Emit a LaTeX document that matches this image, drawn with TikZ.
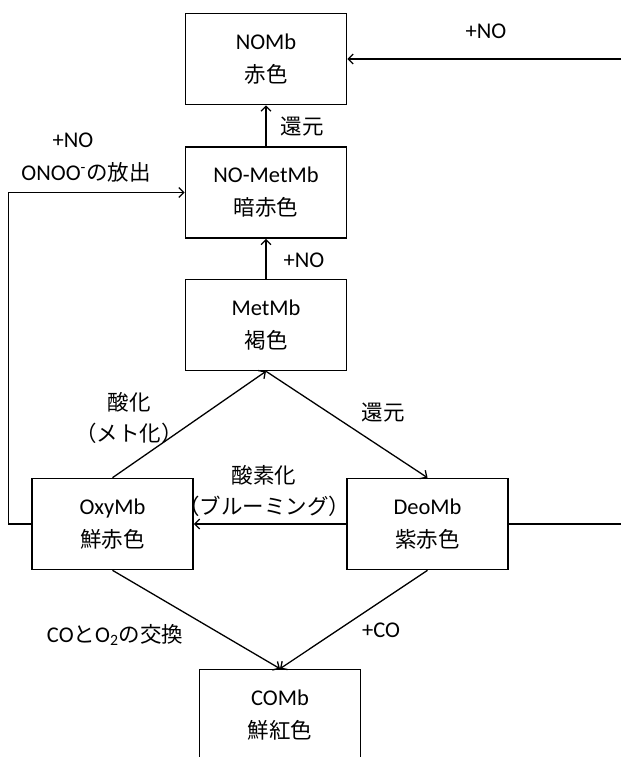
\documentclass[tikz,border=0pt]{standalone}
\usepackage{fontspec}
\setmainfont{Carlito}
\newfontfamily\jp{Noto Sans CJK JP}
\usetikzlibrary{arrows.meta}
\tikzset{
  box/.style={draw, line width=1.6pt, minimum width=161pt, minimum height=91pt, inner sep=0pt, align=center, font=\fontsize{22.5}{33}\selectfont},
  lbl/.style={inner sep=0pt, align=center, font=\fontsize{22.5}{31}\selectfont},
  conn/.style={line width=1.3pt, -{Straight Barb[length=5pt,width=10pt,line width=1.3pt]}},
  plain/.style={line width=1.3pt}
}
\begin{document}
\begin{tikzpicture}[x=1pt,y=-1pt]
\useasboundingbox (0,0) rectangle (621,757);
\clip (0,0) rectangle (621,757);
% boxes
\node[box] (nomb)  at (266,59)  {NOMb\\{\jp\fontsize{21.5}{33}\selectfont 赤色}};
\node[box] (nomet) at (266,192.5) {NO-MetMb\\{\jp\fontsize{21.5}{33}\selectfont 暗赤色}};
\node[box] (met)   at (266,325) {MetMb\\{\jp\fontsize{21.5}{33}\selectfont 褐色}};
\node[box] (oxy)   at (112.5,524) {OxyMb\\{\jp\fontsize{21.5}{33}\selectfont 鮮赤色}};
\node[box] (deo)   at (427.5,524) {DeoMb\\{\jp\fontsize{21.5}{33}\selectfont 紫赤色}};
\node[box] (comb)  at (280,715) {COMb\\{\jp\fontsize{21.5}{33}\selectfont 鮮紅色}};
% edge coordinates
\coordinate (rtop) at (621,59);
\coordinate (rbot) at (621,524);
% connectors
\draw[conn] (rtop) -- (nomb.east);
\draw[conn] (nomet.north) -- (nomb.south);
\draw[conn] (met.north) -- (nomet.south);
\draw[conn] (oxy.west) -- ++(-22.5,0) |- (nomet.west);
\draw[conn] (oxy.north) -- (met.south);
\draw[conn] (met.south) -- (deo.north);
\draw[conn] (deo.west) -- (oxy.east);
\draw[plain] (deo.east) -- (rbot);
\draw[conn] (oxy.south) -- (comb.north);
\draw[conn] (deo.south) -- (comb.north);
% labels
\node[lbl] (l1) at (486,31) {+NO};
\node[lbl] (l2) at (302,127) {\jp\fontsize{21.5}{31}\selectfont 還元};
\node[lbl] (l3) at (304,260) {+NO};
\node[lbl] (l4a) at (73,140) {+NO};
\node[lbl] (l4b) at (86,172) {ONOO\textsuperscript{-}{\jp\fontsize{21.5}{31}\selectfont の放出}};
\node[lbl] (l5) at (129,418) {{\jp\fontsize{21.5}{31}\selectfont 酸化}\\{\jp\fontsize{21.5}{31}\selectfont （メト化）}};
\node[lbl] (l6) at (383,413) {\jp\fontsize{21.5}{31}\selectfont 還元};
\node[lbl] (l7) at (264,491) {{\jp\fontsize{21.5}{31}\selectfont 酸素化}\\{\jp\fontsize{21.5}{31}\selectfont （ブルーミング）}};
\node[lbl] (l8) at (115,635) {CO{\jp\fontsize{21.5}{31}\selectfont と}O\textsubscript{2}{\jp\fontsize{21.5}{31}\selectfont の交換}};
\node[lbl] (l9) at (381,630) {+CO};
\end{tikzpicture}
\end{document}
